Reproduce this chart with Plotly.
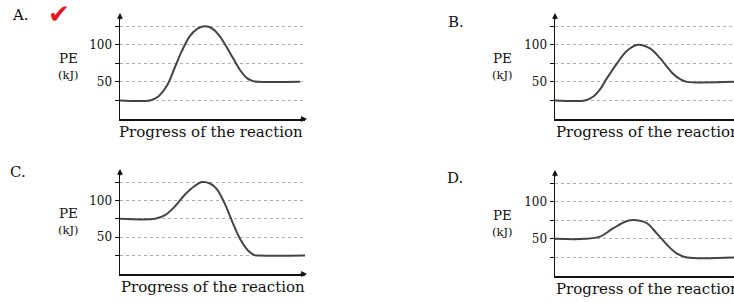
import plotly.graph_objects as go

W, H = 734, 303

# ---- data (progress in arbitrary units, PE in kJ) ----
a_progress = [0, 30, 38, 47, 55, 62, 70, 78, 85, 92, 100, 107, 113, 120, 127, 133, 138, 180]
a_pe = [25, 25, 30, 45, 70, 92, 112, 122, 125, 122, 111, 96, 82, 66, 55, 51, 50, 50]

b_progress = [0, 30, 38, 45, 52, 62, 72, 83, 95, 105, 118, 126, 132, 179]
b_pe = [25, 25, 30, 40, 55, 75, 92, 100, 95, 82, 61, 53, 50, 50]

c_progress = [0, 35, 45, 55, 65, 75, 82, 90, 97, 105, 112, 120, 128, 134, 140, 185]
c_pe = [75, 75, 80, 92, 108, 120, 125, 123, 115, 95, 72, 48, 32, 26, 25, 25]

d_progress = [0, 30, 45, 58, 72, 82, 92, 102, 112, 122, 132, 179]
d_pe = [50, 50, 53, 64, 74, 75, 71, 57, 42, 30, 25, 25]

grid_vals = [25, 50, 75, 100, 125]
grid_text = ["", "50", "", "100", ""]
panel_labels = ["A.", "B.", "C.", "D."]
x_title = "Progress of the reaction"
y_title = "PE"
y_unit = "(kJ)"

FONT = "DejaVu Serif"


def px(x):
    return x / W


def py(y):
    return 1 - y / H


fig = go.Figure()

panels = [
    dict(x0=120, x1=305, yb=119, yt=15, xr=185, lab=(20, 15), pe=(68, 67), xt=(118, 132)),
    dict(x0=555, x1=734, yb=119, yt=15, xr=179, lab=(456, 22), pe=(503, 67), xt=(555, 132)),
    dict(x0=120, x1=305, yb=274, yt=171, xr=185, lab=(18, 172), pe=(68, 222), xt=(120, 287)),
    dict(x0=555, x1=734, yb=276, yt=172, xr=179, lab=(455, 178), pe=(503, 224), xt=(555, 289)),
]
series = [(a_progress, a_pe), (b_progress, b_pe), (c_progress, c_pe), (d_progress, d_pe)]


def note(x, y, text, size, family=FONT, color="#111", xanchor="center", yanchor="middle"):
    return dict(xref="paper", yref="paper", x=px(x), y=py(y), text=text,
                showarrow=False, xanchor=xanchor, yanchor=yanchor, borderpad=0,
                font=dict(family=family, size=size, color=color))


annotations = []
for i, (p, (xs, ys)) in enumerate(zip(panels, series)):
    n = i + 1
    xa = "x" if n == 1 else f"x{n}"
    ya = "y" if n == 1 else f"y{n}"
    fig.add_trace(go.Scatter(
        x=xs, y=ys, xaxis=xa, yaxis=ya, mode="lines",
        line=dict(color="#444444", width=2, shape="spline", smoothing=0.9),
        hoverinfo="skip", showlegend=False, cliponaxis=False,
    ))
    xkey = "xaxis" if n == 1 else f"xaxis{n}"
    ykey = "yaxis" if n == 1 else f"yaxis{n}"
    fig.update_layout(**{
        xkey: dict(domain=[px(p["x0"]), min(1, px(p["x1"]))], range=[0, p["xr"]],
                   anchor=ya, showgrid=False, zeroline=False, showticklabels=False,
                   ticks="", showline=True, linecolor="#111", linewidth=1.5,
                   automargin=False, fixedrange=True),
        ykey: dict(domain=[py(p["yb"]), py(p["yt"])], range=[0, 140], anchor=xa,
                   tickvals=grid_vals, ticktext=grid_text, ticks="outside",
                   ticklen=4, tickwidth=1, tickcolor="#111",
                   tickfont=dict(family=FONT, size=12, color="#111"),
                   showgrid=True, gridcolor="#b0b0b0", gridwidth=1, griddash="dot",
                   zeroline=False, showline=True, linecolor="#111", linewidth=1.5,
                   automargin=False, fixedrange=True),
    })
    annotations.append(dict(xref="paper", yref="paper", x=px(p["x0"]), y=py(p["yt"] - 2),
                            ax=0, ay=8, text="", showarrow=True, arrowhead=2,
                            arrowsize=0.9, arrowwidth=1.3, arrowcolor="#111"))
    if p["x1"] < W:
        annotations.append(dict(xref="paper", yref="paper", x=px(p["x1"] + 2), y=py(p["yb"]),
                                ax=-8, ay=0, text="", showarrow=True, arrowhead=2,
                                arrowsize=0.9, arrowwidth=1.3, arrowcolor="#111"))
    annotations.append(note(p["lab"][0], p["lab"][1], panel_labels[i], 15))
    annotations.append(note(p["pe"][0], p["pe"][1], y_title, 13.5, yanchor="bottom"))
    annotations.append(note(p["pe"][0], p["pe"][1], y_unit, 11.5, yanchor="top"))
    annotations.append(note(p["xt"][0], p["xt"][1], x_title, 15, xanchor="left"))

annotations.append(note(59, 14, "✔", 26, family="DejaVu Sans", color="#e8141c"))

fig.update_layout(
    width=W, height=H, margin=dict(l=0, r=0, t=0, b=0, autoexpand=False),
    paper_bgcolor="white", plot_bgcolor="white",
    annotations=annotations, showlegend=False,
)

fig.write_html("out.html", config={"displayModeBar": False, "staticPlot": True},
               post_script="document.body.style.margin='0';")
